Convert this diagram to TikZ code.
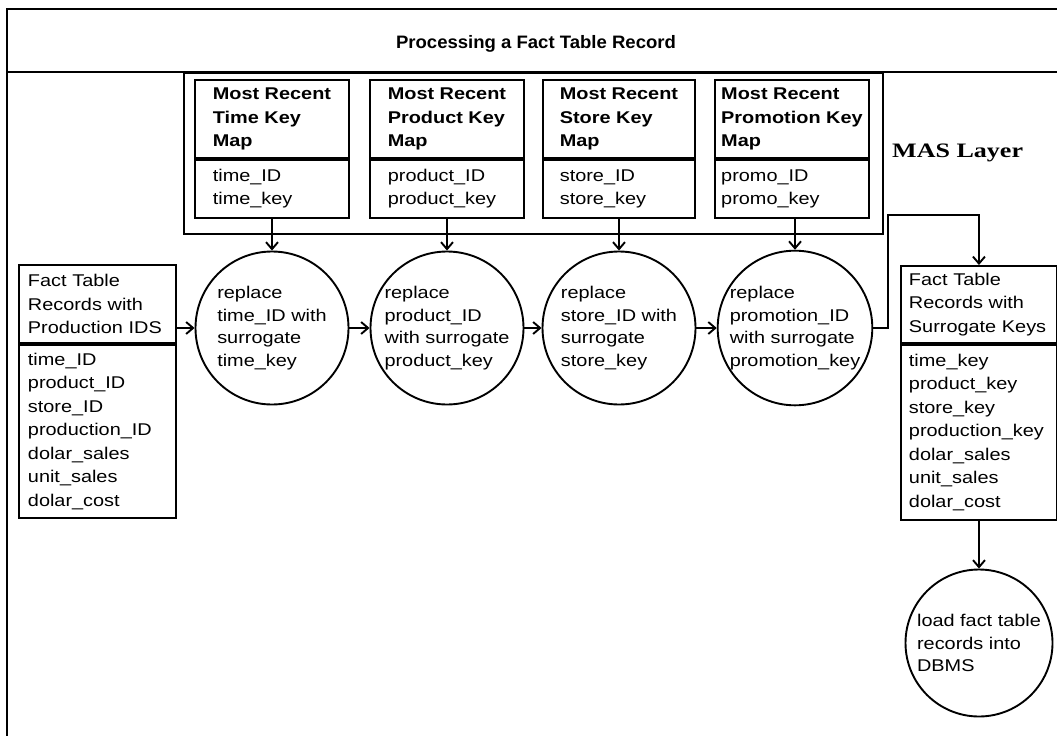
\documentclass[tikz,border=0pt]{standalone}
\usepackage{fontspec}
\setmainfont[FakeStretch=1.17]{Liberation Sans}
\newfontfamily\headfont[FakeStretch=1.03]{Liberation Sans}
\newfontfamily\layerfont[FakeStretch=1.27]{Liberation Serif}
\usetikzlibrary{arrows.meta}
\newcommand\bodysize{\fontsize{17}{23.5}\selectfont}
\newcommand\procsize{\fontsize{17}{22.5}\selectfont}
\begin{document}
\begin{tikzpicture}[x=1pt,y=-1pt,
  ln/.style={line width=1.9pt},
  frame/.style={line width=2.3pt},
  part/.style={draw, ln, inner sep=0pt},
  txt/.style={inner sep=0pt, align=left, font=\bodysize},
  listpart/.style={part, align=left, font=\bodysize, inner xsep=9pt, inner ysep=0pt},
  proc/.style={draw, ln, circle, inner sep=0pt, minimum size=153pt, align=left, font=\procsize},
  flow/.style={ln, -{Straight Barb[length=7pt,width=12pt]}}]
\useasboundingbox (0,0) rectangle (1057,736);

% outer frame and title band
\draw[frame] (1057,9) -- (7,9) -- (7,736);
\draw[frame] (7,72) -- (1057,72);
\node[inner sep=0pt, anchor=base, font=\headfont\bfseries\fontsize{18}{22}\selectfont] (title) at (536,48) {Processing a Fact Table Record};

% MAS layer container
\node[part, minimum width=699pt, minimum height=161pt, anchor=north west] (mas) at (183,72) {};
\node[inner sep=0pt, anchor=base west, font=\layerfont\bfseries\fontsize{20.5}{24}\selectfont] (layer) at (892,157) {MAS Layer};

% key maps
\node[part, minimum width=154pt, minimum height=78pt, anchor=north west] (h1) at (194,79) {};
\node[part, minimum width=154pt, minimum height=58pt, anchor=north] (f1) at (h1.south) {};
\node[txt, font=\bodysize\bfseries] (t1) at (h1.center) {Most Recent\\Time Key\\Map};
\node[txt, anchor=west] (u1) at (t1.west |- f1.center) {time\_ID\\time\_key};

\node[part, minimum width=154pt, minimum height=78pt, anchor=north west] (h2) at (369,79) {};
\node[part, minimum width=154pt, minimum height=58pt, anchor=north] (f2) at (h2.south) {};
\node[txt, font=\bodysize\bfseries] (t2) at (h2.center) {Most Recent\\Product Key\\Map};
\node[txt, anchor=west] (u2) at (t2.west |- f2.center) {product\_ID\\product\_key};

\node[part, minimum width=152pt, minimum height=78pt, anchor=north west] (h3) at (542,79) {};
\node[part, minimum width=152pt, minimum height=58pt, anchor=north] (f3) at (h3.south) {};
\node[txt, font=\bodysize\bfseries] (t3) at (h3.center) {Most Recent\\Store Key\\Map};
\node[txt, anchor=west] (u3) at (t3.west |- f3.center) {store\_ID\\store\_key};

\node[part, minimum width=154pt, minimum height=78pt, anchor=north west] (h4) at (714,79) {};
\node[part, minimum width=154pt, minimum height=58pt, anchor=north] (f4) at (h4.south) {};
\node[txt, font=\bodysize\bfseries] (t4) at (h4.center) {Most Recent\\Promotion Key\\Map};
\node[txt, anchor=west] (u4) at (t4.west |- f4.center) {promo\_ID\\promo\_key};

% incoming fact records
\node[listpart, text width=139pt, minimum height=78pt, anchor=north west] (inh) at (18,264) {Fact Table\\Records with\\Production IDS};
\node[listpart, text width=139pt, minimum height=173pt, anchor=north] (inf) at (inh.south) {time\_ID\\product\_ID\\store\_ID\\production\_ID\\dolar\_sales\\unit\_sales\\dolar\_cost};

% replacement steps
\node[proc] (c1) at (272,328) {replace\\time\_ID with\\surrogate\\time\_key};
\node[proc] (c2) at (447,328) {replace\\product\_ID\\with surrogate\\product\_key};
\node[proc] (c3) at (619,328) {replace\\store\_ID with\\surrogate\\store\_key};
\node[proc] (c4) at (795,328) {replace\\promotion\_ID\\with surrogate\\promotion\_key};

% outgoing fact records
\node[listpart, text width=140pt, inner xsep=8pt, minimum height=77pt, anchor=north west] (outh) at (900,265) {Fact Table\\Records with\\Surrogate Keys};
\node[listpart, text width=140pt, inner xsep=8pt, minimum height=175pt, anchor=north] (outf) at (outh.south) {time\_key\\product\_key\\store\_key\\production\_key\\dolar\_sales\\unit\_sales\\dolar\_cost};

% load step
\node[proc, minimum size=147pt] (db) at (979,643) {load fact table\\records into\\DBMS};

% connectors
\draw[flow] (c1.north |- f1.south) -- (c1.north);
\draw[flow] (c2.north |- f2.south) -- (c2.north);
\draw[flow] (c3.north |- f3.south) -- (c3.north);
\draw[flow] (c4.north |- f4.south) -- (c4.north);
\draw[flow] (inh.east |- c1.west) -- (c1.west);
\draw[flow] (c1.east) -- (c2.west);
\draw[flow] (c2.east) -- (c3.west);
\draw[flow] (c3.east) -- (c4.west);
\coordinate (bend) at (888,215);
\draw[flow] (c4.east) -| (bend) -| (outh.north);
\draw[flow] (outf.south) -- (db.north);
\end{tikzpicture}
\end{document}
